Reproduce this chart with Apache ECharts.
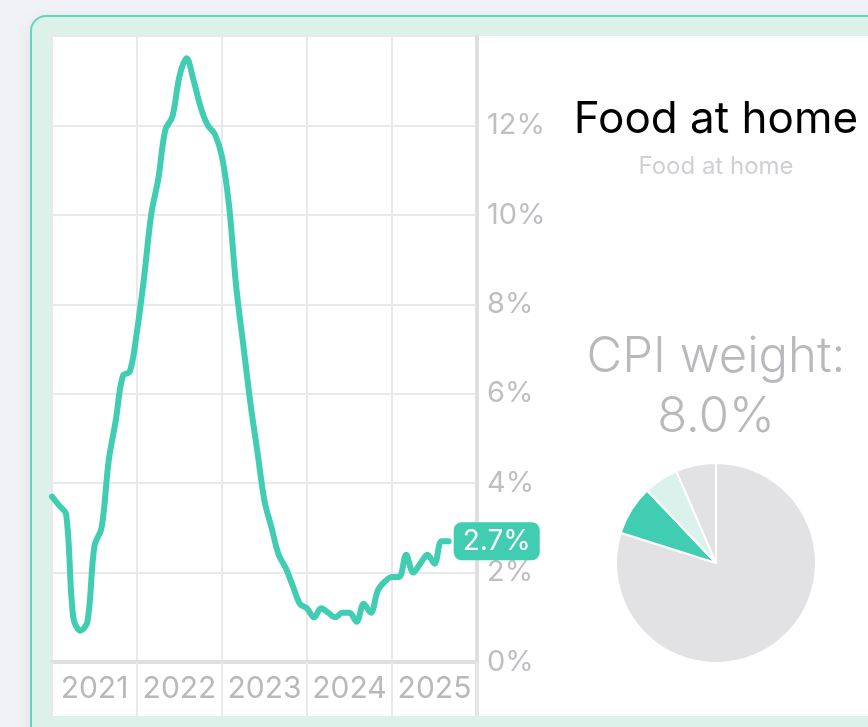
<!DOCTYPE html>
<html>
<head>
<meta charset="utf-8">
<script src="https://cdn.jsdelivr.net/npm/echarts@6/dist/echarts.min.js"></script>
<style>
  html, body { margin: 0; padding: 0; width: 868px; height: 727px; overflow: hidden; background: #f1f2f6; }
  #card { position: absolute; left: 30px; top: 15px; width: 900px; height: 800px; box-sizing: border-box;
          border: 2px solid #62d5ba; border-radius: 16px; background: #dbf1ea; box-shadow: 0 4px 18px rgba(0,0,0,0.07); }
  #panel { position: absolute; left: 52px; top: 36px; width: 830px; height: 680px; background: #ffffff; }
  #chart { position: absolute; left: 0; top: 0; width: 868px; height: 727px; }
</style>
</head>
<body>
<div id="card"></div>
<div id="panel"></div>
<div id="chart"></div>
<script>
// ---- data ----
const years = ['2021', '2022', '2023', '2024', '2025'];
const yTicks = [0, 2, 4, 6, 8, 10, 12];
const foodAtHome = [
  3.7, 3.5, 3.3, 1.0, 0.7, 0.9, 2.6, 3.0, 4.5, 5.4, 6.4, 6.5,
  7.4, 8.6, 10.0, 10.8, 11.9, 12.2, 13.1, 13.5, 13.0, 12.4, 12.0, 11.8,
  11.3, 10.2, 8.4, 7.1, 5.8, 4.7, 3.6, 3.0, 2.4, 2.1, 1.7, 1.3,
  1.2, 1.0, 1.2, 1.1, 1.0, 1.1, 1.1, 0.9, 1.3, 1.1, 1.6, 1.8,
  1.9, 1.9, 2.4, 2.0, 2.2, 2.4, 2.2, 2.7, 2.7
];
const pieNames = ['All other items', 'Food at home', 'Food away from home', 'Other'];
const pieValues = [79.9, 8.0, 5.6, 6.5];
const titleText = 'Food at home';
const subtitleText = 'Food at home';

// month categories Jan 2021 .. Jan 2026
const months = [];
years.forEach(y => { for (let m = 1; m <= 12; m++) months.push(y + '-' + String(m).padStart(2, '0')); });
months.push(String(Number(years[years.length - 1]) + 1) + '-01');

const TEAL = '#40cdb1';
const GRID = '#e9e9eb';
const AXIS = '#dfdfe2';
const FONT = 'Inter, "Noto Sans", sans-serif';

const chart = echarts.init(document.getElementById('chart'), null, { renderer: 'canvas' });
chart.setOption({
  animation: false,
  textStyle: { fontFamily: FONT },
  grid: { left: 52, right: 391, top: 36, bottom: 65 },
  xAxis: {
    type: 'category',
    data: months,
    boundaryGap: false,
    axisLine: { show: true, lineStyle: { color: AXIS, width: 4 } },
    axisTick: { show: true, length: 54, interval: (i) => i % 12 === 0, lineStyle: { color: GRID, width: 2 } },
    splitLine: { show: true, interval: (i) => i % 12 === 0, lineStyle: { color: GRID, width: 2 } },
    axisLabel: {
      interval: (i) => i % 12 === 6,
      formatter: (v) => v.slice(0, 4),
      color: '#b9b9bd', fontSize: 30, margin: 12, fontFamily: FONT
    }
  },
  yAxis: {
    type: 'value',
    position: 'right',
    min: 0, max: 14, interval: 2,
    axisLine: { show: true, lineStyle: { color: AXIS, width: 4 } },
    axisTick: { show: false },
    splitLine: { show: true, lineStyle: { color: GRID, width: 2 } },
    axisLabel: {
      formatter: (v) => yTicks.includes(v) ? v + '%' : '',
      color: '#bfbfc3', fontSize: 29, margin: 10, fontFamily: FONT
    }
  },
  series: [
    {
      type: 'line',
      data: foodAtHome,
      smooth: 0.35,
      symbol: 'none',
      lineStyle: { color: TEAL, width: 6, cap: 'round', join: 'round' },
      z: 5,
      endLabel: {
        show: true,
        formatter: (p) => p.value.toFixed(1) + '%',
        color: '#ffffff', fontSize: 28, fontFamily: FONT,
        backgroundColor: TEAL, borderRadius: 8,
        padding: [5, 9, 5, 9], distance: 5
      }
    },
    {
      type: 'pie',
      center: [716, 563],
      radius: 100,
      startAngle: 90,
      clockwise: true,
      label: { show: false },
      labelLine: { show: false },
      silent: true,
      itemStyle: { borderColor: '#ffffff', borderWidth: 2 },
      data: pieNames.map((n, i) => ({
        name: n, value: pieValues[i],
        itemStyle: { color: ['#e2e2e4', TEAL, '#daf2eb', '#e2e2e4'][i] }
      }))
    }
  ],
  graphic: [
    { type: 'rect', z: -1, shape: { x: 475, y: 662, width: 4, height: 54 }, style: { fill: AXIS } },
    { type: 'text', x: 716, y: 120, style: { text: titleText, fontSize: 44, fontFamily: FONT, fill: '#000000', align: 'center', verticalAlign: 'middle' } },
    { type: 'text', x: 716, y: 167, style: { text: subtitleText, fontSize: 24, fontFamily: FONT, fill: '#d0d0d4', align: 'center', verticalAlign: 'middle' } },
    { type: 'text', x: 716, y: 357, style: { text: 'CPI weight:', fontSize: 49, fontWeight: 300, fontFamily: FONT, fill: '#b9b9bd', align: 'center', verticalAlign: 'middle' } },
    { type: 'text', x: 716, y: 417, style: { text: pieValues[1].toFixed(1) + '%', fontSize: 49, fontWeight: 300, fontFamily: FONT, fill: '#b9b9bd', align: 'center', verticalAlign: 'middle' } }
  ]
});
</script>
</body>
</html>
